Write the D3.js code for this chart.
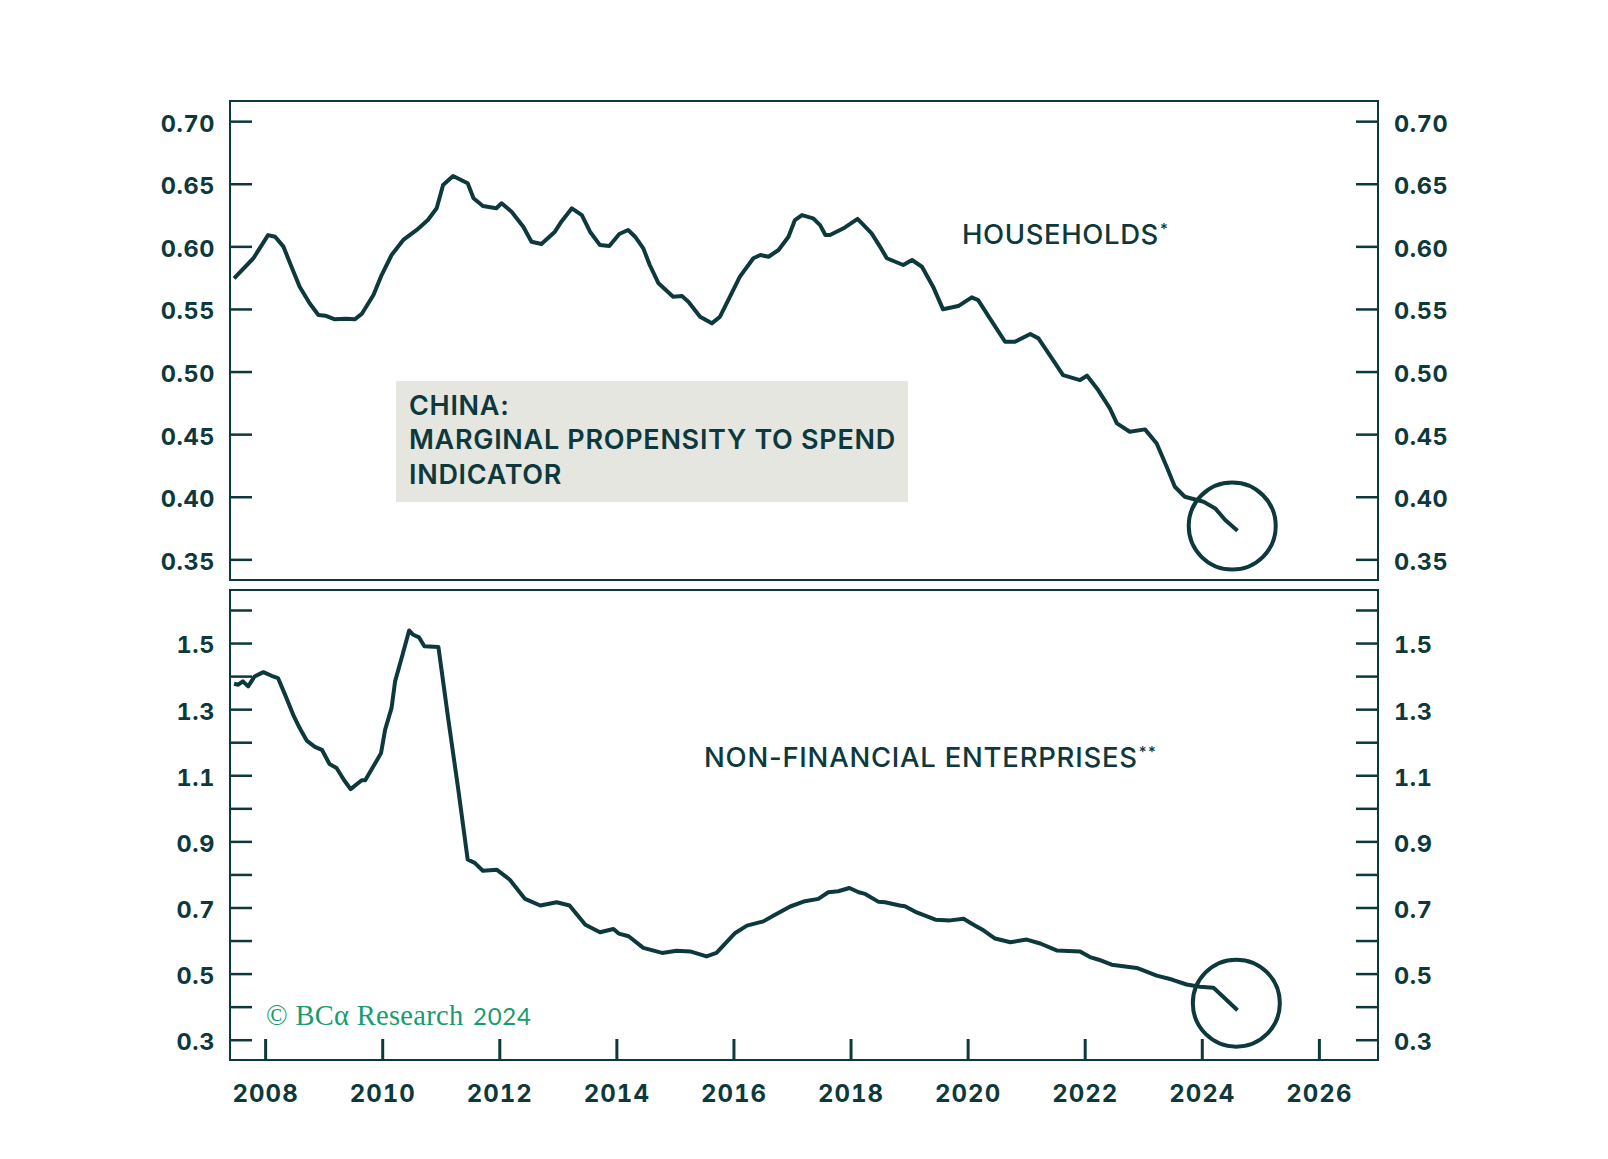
<!DOCTYPE html>
<html><head><meta charset="utf-8">
<script src="https://cdn.jsdelivr.net/npm/d3@7"></script>
<style>
html,body{margin:0;padding:0;background:#fff;}
svg{display:block;}
text{font-family:Inter,"Open Sans",sans-serif;}
</style></head>
<body><svg id="chart" width="1608" height="1159"></svg>
<script>
// ---------- DATA ----------
const hhYears = [2007.47,2007.80,2008.05,2008.17,2008.31,2008.45,2008.59,2008.76,2008.91,2009.03,2009.19,2009.39,2009.53,2009.65,2009.85,2009.99,2010.16,2010.36,2010.59,2010.78,2010.93,2011.04,2011.21,2011.46,2011.56,2011.72,2011.95,2012.04,2012.21,2012.41,2012.55,2012.72,2012.95,2013.06,2013.24,2013.41,2013.55,2013.72,2013.88,2014.05,2014.20,2014.32,2014.46,2014.57,2014.72,2014.97,2015.12,2015.23,2015.43,2015.63,2015.77,2015.94,2016.11,2016.34,2016.46,2016.60,2016.77,2016.94,2017.05,2017.17,2017.36,2017.48,2017.57,2017.65,2017.88,2018.12,2018.36,2018.50,2018.62,2018.90,2019.05,2019.22,2019.41,2019.58,2019.84,2020.07,2020.18,2020.38,2020.64,2020.81,2021.07,2021.21,2021.46,2021.63,2021.92,2022.04,2022.23,2022.43,2022.55,2022.77,2023.03,2023.23,2023.40,2023.54,2023.71,2024.03,2024.23,2024.40,2024.61];
const hhValues = [0.5745,0.5905,0.609,0.6077,0.600,0.5838,0.5678,0.5545,0.5452,0.5446,0.5417,0.5422,0.5417,0.546,0.5611,0.5771,0.5931,0.6051,0.6131,0.621,0.6304,0.649,0.6562,0.6504,0.6384,0.6322,0.6304,0.6344,0.6277,0.6157,0.6037,0.6019,0.6117,0.6197,0.6304,0.625,0.6117,0.601,0.6003,0.6099,0.6131,0.6077,0.5984,0.5851,0.5705,0.5598,0.5603,0.5558,0.5438,0.5385,0.5438,0.5598,0.5758,0.5905,0.5931,0.5917,0.5971,0.6077,0.621,0.625,0.6224,0.617,0.6091,0.6091,0.6144,0.6219,0.6104,0.600,0.5905,0.5851,0.5891,0.5837,0.5678,0.5497,0.5523,0.5593,0.5571,0.5425,0.5238,0.5238,0.5300,0.5265,0.5092,0.4972,0.4932,0.4967,0.4852,0.4706,0.4586,0.4519,0.4538,0.4426,0.4239,0.4080,0.4000,0.3960,0.3907,0.3814,0.3728];

const nfeYears = [2007.47,2007.54,2007.62,2007.71,2007.82,2007.97,2008.11,2008.22,2008.34,2008.48,2008.59,2008.71,2008.85,2008.97,2009.10,2009.22,2009.35,2009.46,2009.65,2009.71,2009.85,2009.98,2010.05,2010.16,2010.22,2010.34,2010.46,2010.53,2010.63,2010.72,2010.96,2011.13,2011.30,2011.46,2011.58,2011.72,2011.96,2012.18,2012.44,2012.70,2012.98,2013.20,2013.47,2013.72,2013.95,2014.04,2014.21,2014.46,2014.78,2015.03,2015.26,2015.54,2015.71,2016.03,2016.23,2016.51,2016.68,2016.97,2017.22,2017.45,2017.62,2017.79,2017.98,2018.14,2018.25,2018.48,2018.59,2018.84,2018.93,2019.13,2019.45,2019.70,2019.93,2020.13,2020.27,2020.47,2020.73,2021.01,2021.24,2021.52,2021.92,2022.09,2022.24,2022.46,2022.89,2023.23,2023.49,2023.74,2023.97,2024.20,2024.37,2024.61];
const nfeValues = [1.377,1.374,1.384,1.369,1.399,1.412,1.401,1.394,1.344,1.283,1.243,1.205,1.186,1.177,1.134,1.122,1.085,1.058,1.085,1.085,1.127,1.167,1.238,1.304,1.384,1.460,1.538,1.525,1.517,1.490,1.488,1.268,1.056,0.845,0.835,0.811,0.814,0.784,0.726,0.706,0.716,0.706,0.648,0.625,0.635,0.621,0.613,0.578,0.5625,0.569,0.567,0.552,0.5625,0.623,0.645,0.658,0.675,0.703,0.719,0.726,0.746,0.749,0.759,0.746,0.741,0.717,0.716,0.706,0.704,0.685,0.663,0.661,0.666,0.645,0.631,0.606,0.595,0.603,0.591,0.570,0.567,0.550,0.542,0.527,0.517,0.494,0.482,0.467,0.460,0.457,0.429,0.389];

const topTicks = [0.35,0.40,0.45,0.50,0.55,0.60,0.65,0.70];
const bottomTicks = [0.3,0.4,0.5,0.6,0.7,0.8,0.9,1.0,1.1,1.2,1.3,1.4,1.5,1.6];
const bottomLabelTicks = [0.3,0.5,0.7,0.9,1.1,1.3,1.5];
const yearTicks = [2008,2010,2012,2014,2016,2018,2020,2022,2024,2026];

const titleLines = ["CHINA:","MARGINAL PROPENSITY TO SPEND","INDICATOR"];
const hhLabel = "HOUSEHOLDS";
const nfeLabel = "NON-FINANCIAL ENTERPRISES";
const highlightTop = [2024.52, 0.3766];
const highlightBottom = [2024.59, 0.4106];

// ---------- DRAW ----------
const INK = "#0d393d";
const svg = d3.select("#chart");
svg.append("rect").attr("width",1608).attr("height",1159).attr("fill","#fff");

const x = d3.scaleLinear().domain([2007.40, 2027.01]).range([230,1378]);
const yTop = d3.scaleLinear().domain([0.3335,0.7161]).range([580,101]);
const yBot = d3.scaleLinear().domain([0.2386,1.6605]).range([1060,590]);

function styleAxis(g, fs){
  g.select(".domain").remove();
  g.selectAll(".tick line").attr("stroke",INK).attr("stroke-width",2.5);
  g.selectAll(".tick text").attr("fill",INK).attr("font-size",fs).attr("font-weight",700)
    .attr("letter-spacing",0.6).style("font-variant-numeric","tabular-nums");
}

// annotation box
svg.append("rect").attr("x",396).attr("y",381).attr("width",512).attr("height",121).attr("fill","#e5e6e0");
const tt = svg.append("text").attr("fill",INK).attr("font-size",27).attr("font-weight",600).attr("letter-spacing",0.7);
titleLines.forEach((t,i)=>tt.append("tspan").attr("x",409).attr("y",415+i*34.3).text(t));

// top panel axes
const fmt2 = d3.format(".2f"), fmt1 = d3.format(".1f");
svg.append("g").attr("transform","translate(230,0)")
  .call(d3.axisLeft(yTop).tickValues(topTicks).tickFormat(fmt2).tickSizeInner(-22).tickSizeOuter(0).tickPadding(15))
  .call(g=>styleAxis(g,23.5)).call(g=>g.selectAll(".tick text").attr("dy","0.42em"));
svg.append("g").attr("transform","translate(1378,0)")
  .call(d3.axisRight(yTop).tickValues(topTicks).tickFormat(fmt2).tickSizeInner(-22).tickSizeOuter(0).tickPadding(16))
  .call(g=>styleAxis(g,23.5)).call(g=>g.selectAll(".tick text").attr("dy","0.42em"));

// bottom panel axes
const botFmt = v => bottomLabelTicks.some(t=>Math.abs(t-v)<1e-6) ? fmt1(v) : "";
svg.append("g").attr("transform","translate(230,0)")
  .call(d3.axisLeft(yBot).tickValues(bottomTicks).tickFormat(botFmt).tickSizeInner(-22).tickSizeOuter(0).tickPadding(15))
  .call(g=>styleAxis(g,23.5)).call(g=>g.selectAll(".tick text").attr("dy","0.42em"));
svg.append("g").attr("transform","translate(1378,0)")
  .call(d3.axisRight(yBot).tickValues(bottomTicks).tickFormat(botFmt).tickSizeInner(-22).tickSizeOuter(0).tickPadding(16))
  .call(g=>styleAxis(g,23.5)).call(g=>g.selectAll(".tick text").attr("dy","0.42em"));

svg.append("g").attr("transform","translate(0,1060)")
  .call(d3.axisBottom(x).tickValues(yearTicks).tickFormat(d3.format("d")).tickSizeInner(-21).tickSizeOuter(0).tickPadding(25))
  .call(g=>styleAxis(g,24))
  .call(g=>g.selectAll(".tick line").attr("stroke-width",3))
  .call(g=>g.selectAll(".tick text").attr("letter-spacing",1));

// frames
svg.append("rect").attr("x",230).attr("y",101).attr("width",1148).attr("height",479)
  .attr("fill","none").attr("stroke",INK).attr("stroke-width",2);
svg.append("rect").attr("x",230).attr("y",590).attr("width",1148).attr("height",470)
  .attr("fill","none").attr("stroke",INK).attr("stroke-width",2);

// lines
const lineTop = d3.line().x((d,i)=>x(hhYears[i])).y(d=>yTop(d));
const lineBot = d3.line().x((d,i)=>x(nfeYears[i])).y(d=>yBot(d));
svg.append("path").datum(hhValues).attr("d",lineTop).attr("fill","none").attr("stroke",INK)
  .attr("stroke-width",4).attr("stroke-linejoin","round");
svg.append("path").datum(nfeValues).attr("d",lineBot).attr("fill","none").attr("stroke",INK)
  .attr("stroke-width",4).attr("stroke-linejoin","round");

// highlight circles
svg.append("circle").attr("cx",x(highlightTop[0])).attr("cy",yTop(highlightTop[1])).attr("r",43.5)
  .attr("fill","none").attr("stroke",INK).attr("stroke-width",4);
svg.append("circle").attr("cx",x(highlightBottom[0])).attr("cy",yBot(highlightBottom[1])).attr("r",43.5)
  .attr("fill","none").attr("stroke",INK).attr("stroke-width",4);

// series labels
const l1 = svg.append("text").attr("x",962).attr("y",244.3).attr("fill",INK).attr("font-size",27.5)
  .attr("font-weight",500).attr("letter-spacing",0.6);
l1.append("tspan").text(hhLabel);
l1.append("tspan").attr("font-size",15).attr("dy",-10).attr("dx",1).attr("letter-spacing",0).text("*");
const l2 = svg.append("text").attr("x",704).attr("y",766.7).attr("fill",INK).attr("font-size",27.5)
  .attr("font-weight",500).attr("letter-spacing",0.75);
l2.append("tspan").text(nfeLabel);
l2.append("tspan").attr("font-size",15).attr("dy",-10).attr("dx",1).attr("letter-spacing",1.5).text("**");

// copyright
const cp = svg.append("text").attr("x",266).attr("y",1025).attr("fill","#179b70");
cp.append("tspan").attr("font-family","'Liberation Serif',serif").attr("font-size",28.5).attr("letter-spacing",0.3).text("© BCα Research ");
cp.append("tspan").attr("font-family","Lato,Inter,sans-serif").attr("font-size",24).attr("letter-spacing",0.8).attr("dx",2).text("2024");
</script></body></html>
